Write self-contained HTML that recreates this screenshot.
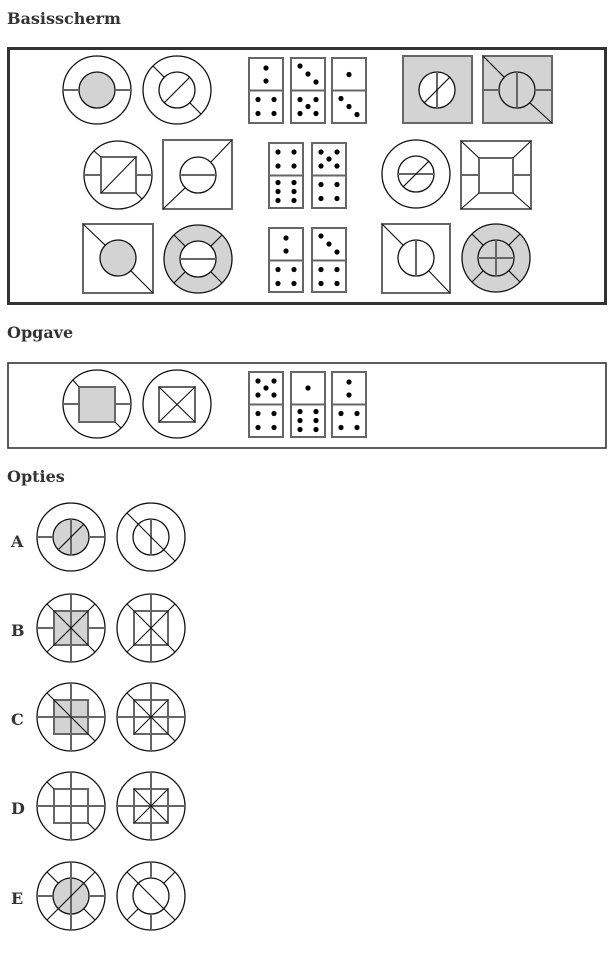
<!DOCTYPE html>
<html><head><meta charset="utf-8"><style>
html,body{margin:0;padding:0;background:#fff;width:613px;height:955px;overflow:hidden}
svg{display:block}
text{font-family:"DejaVu Serif","Liberation Serif",serif;font-weight:bold;fill:#333}
.c{fill:none;stroke:#111;stroke-width:1.3}
.cf{fill:#d3d3d3;stroke:#111;stroke-width:1.3}
.cw{fill:#fff;stroke:#111;stroke-width:1.3}
.g{stroke:#666;stroke-width:2;fill:none}
.gf{stroke:#666;stroke-width:2;fill:#d3d3d3}
.gw{stroke:#666;stroke-width:2;fill:#fff}
.k{stroke:#111;stroke-width:1.1}
.d{fill:#000}
.box{fill:none;stroke:#333;stroke-width:3}
.box2{fill:none;stroke:#333;stroke-width:1.6}
</style></head><body>
<svg width="613" height="955" viewBox="0 0 613 955">
<text x="7" y="24" font-size="16">Basisscherm</text>
<rect class="box" x="8.5" y="48.5" width="597" height="255"/>

<circle class="c" cx="97" cy="90" r="34"/>
<circle class="cf" cx="97" cy="90" r="18"/>
<line class="g" x1="63" y1="90" x2="79" y2="90"/><line class="g" x1="115" y1="90" x2="131" y2="90"/>
<circle class="c" cx="177" cy="90" r="34"/>
<circle class="c" cx="177" cy="90" r="18"/>
<line class="k" x1="164.3" y1="102.7" x2="189.7" y2="77.3"/>
<line class="k" x1="153" y1="66" x2="164.3" y2="77.3"/><line class="k" x1="189.7" y1="102.7" x2="201" y2="114"/>
<g class="g"><rect x="249" y="58" width="34" height="65"/><line x1="249" y1="90.5" x2="283" y2="90.5"/>
<rect x="291" y="58" width="34" height="65"/><line x1="291" y1="90.5" x2="325" y2="90.5"/>
<rect x="332" y="58" width="34" height="65"/><line x1="332" y1="90.5" x2="366" y2="90.5"/></g>
<g class="d">
<circle cx="266" cy="68" r="2.6"/><circle cx="266" cy="81" r="2.6"/>
<circle cx="258" cy="99.5" r="2.6"/><circle cx="274" cy="99.5" r="2.6"/><circle cx="258" cy="113.5" r="2.6"/><circle cx="274" cy="113.5" r="2.6"/>
<circle cx="300" cy="66" r="2.6"/><circle cx="308" cy="74" r="2.6"/><circle cx="316" cy="82" r="2.6"/>
<circle cx="300" cy="99.5" r="2.6"/><circle cx="316" cy="99.5" r="2.6"/><circle cx="308" cy="106.5" r="2.6"/><circle cx="300" cy="113.5" r="2.6"/><circle cx="316" cy="113.5" r="2.6"/>
<circle cx="349" cy="74.5" r="2.6"/>
<circle cx="341" cy="98.5" r="2.6"/><circle cx="349" cy="106.5" r="2.6"/><circle cx="357" cy="114.5" r="2.6"/>
</g>
<rect class="gf" x="403" y="56" width="69" height="67"/>
<circle class="cw" cx="437" cy="90" r="18"/>
<line class="g" x1="437" y1="72" x2="437" y2="108"/>
<line class="k" x1="424.3" y1="102.7" x2="449.7" y2="77.3"/>
<rect class="gf" x="483" y="56" width="69" height="67"/>
<circle class="cf" cx="517" cy="90" r="18"/>
<line class="g" x1="517" y1="72" x2="517" y2="108"/>
<line class="g" x1="483" y1="90" x2="499" y2="90"/><line class="g" x1="535" y1="90" x2="552" y2="90"/>
<line class="k" x1="483" y1="56" x2="504.3" y2="77.3"/><line class="k" x1="529.7" y1="102.7" x2="552" y2="123"/>

<circle class="c" cx="118" cy="175" r="34"/>
<rect class="g" x="101" y="157" width="35" height="36"/>
<line class="k" x1="101" y1="193" x2="136" y2="157"/>
<line class="g" x1="84" y1="175" x2="101" y2="175"/><line class="g" x1="136" y1="175" x2="152" y2="175"/>
<line class="k" x1="94" y1="151" x2="101" y2="157"/><line class="k" x1="136" y1="193" x2="142" y2="199"/>
<rect class="g" x="163" y="140" width="69" height="69"/>
<circle class="c" cx="198" cy="175" r="18"/>
<line class="g" x1="180" y1="175" x2="216" y2="175"/>
<line class="k" x1="163" y1="209" x2="185.3" y2="187.7"/><line class="k" x1="210.7" y1="162.3" x2="232" y2="140"/>
<g class="g"><rect x="269" y="143" width="34" height="65"/><line x1="269" y1="175.5" x2="303" y2="175.5"/>
<rect x="312" y="143" width="34" height="65"/><line x1="312" y1="175.5" x2="346" y2="175.5"/></g>
<g class="d">
<circle cx="278" cy="152" r="2.6"/><circle cx="294" cy="152" r="2.6"/><circle cx="278" cy="166" r="2.6"/><circle cx="294" cy="166" r="2.6"/>
<circle cx="278" cy="182.5" r="2.6"/><circle cx="294" cy="182.5" r="2.6"/><circle cx="278" cy="191.5" r="2.6"/><circle cx="294" cy="191.5" r="2.6"/><circle cx="278" cy="200.5" r="2.6"/><circle cx="294" cy="200.5" r="2.6"/>
<circle cx="321" cy="152" r="2.6"/><circle cx="337" cy="152" r="2.6"/><circle cx="329" cy="159" r="2.6"/><circle cx="321" cy="166" r="2.6"/><circle cx="337" cy="166" r="2.6"/>
<circle cx="321" cy="184.5" r="2.6"/><circle cx="337" cy="184.5" r="2.6"/><circle cx="321" cy="198.5" r="2.6"/><circle cx="337" cy="198.5" r="2.6"/>
</g>
<circle class="c" cx="416" cy="174" r="34"/>
<circle class="c" cx="416" cy="174" r="18"/>
<line class="g" x1="398" y1="174" x2="434" y2="174"/>
<line class="k" x1="403.3" y1="186.7" x2="428.7" y2="161.3"/>
<rect class="g" x="461" y="141" width="70" height="68"/>
<rect class="g" x="479" y="158" width="34" height="35"/>
<line class="k" x1="461" y1="141" x2="479" y2="158"/><line class="k" x1="531" y1="141" x2="513" y2="158"/>
<line class="k" x1="461" y1="209" x2="479" y2="193"/><line class="k" x1="531" y1="209" x2="513" y2="193"/>
<line class="g" x1="461" y1="175" x2="479" y2="175"/><line class="g" x1="513" y1="175" x2="531" y2="175"/>

<rect class="g" x="83" y="224" width="70" height="69"/>
<circle class="cf" cx="118" cy="258" r="18"/>
<line class="k" x1="83" y1="224" x2="105.3" y2="245.3"/><line class="k" x1="130.7" y1="270.7" x2="153" y2="293"/>
<circle class="cf" cx="198" cy="259" r="34"/>
<circle class="cw" cx="198" cy="259" r="18"/>
<line class="g" x1="180" y1="259" x2="216" y2="259"/>
<g class="k"><line x1="174" y1="235" x2="185.3" y2="246.3"/><line x1="222" y1="235" x2="210.7" y2="246.3"/><line x1="174" y1="283" x2="185.3" y2="271.7"/><line x1="222" y1="283" x2="210.7" y2="271.7"/></g>
<g class="g"><rect x="269" y="228" width="34" height="64"/><line x1="269" y1="260.5" x2="303" y2="260.5"/>
<rect x="312" y="228" width="34" height="64"/><line x1="312" y1="260.5" x2="346" y2="260.5"/></g>
<g class="d">
<circle cx="286" cy="238" r="2.6"/><circle cx="286" cy="251" r="2.6"/>
<circle cx="278" cy="269.5" r="2.6"/><circle cx="294" cy="269.5" r="2.6"/><circle cx="278" cy="283.5" r="2.6"/><circle cx="294" cy="283.5" r="2.6"/>
<circle cx="321" cy="236" r="2.6"/><circle cx="329" cy="244" r="2.6"/><circle cx="337" cy="252" r="2.6"/>
<circle cx="321" cy="269.5" r="2.6"/><circle cx="337" cy="269.5" r="2.6"/><circle cx="321" cy="283.5" r="2.6"/><circle cx="337" cy="283.5" r="2.6"/>
</g>
<rect class="g" x="382" y="224" width="68" height="69"/>
<circle class="c" cx="416" cy="258" r="18"/>
<line class="g" x1="416" y1="240" x2="416" y2="276"/>
<line class="k" x1="382" y1="224" x2="403.3" y2="245.3"/><line class="k" x1="428.7" y1="270.7" x2="450" y2="293"/>
<circle class="cf" cx="496" cy="258" r="34"/>
<circle class="cf" cx="496" cy="258" r="18"/>
<line class="g" x1="478" y1="258" x2="514" y2="258"/><line class="g" x1="496" y1="240" x2="496" y2="276"/>
<g class="k"><line x1="472" y1="234" x2="483.3" y2="245.3"/><line x1="520" y1="234" x2="508.7" y2="245.3"/><line x1="472" y1="282" x2="483.3" y2="270.7"/><line x1="520" y1="282" x2="508.7" y2="270.7"/></g>

<text x="7" y="338" font-size="16">Opgave</text>
<rect class="box2" x="8" y="363" width="598" height="85"/>
<circle class="c" cx="97" cy="404" r="34"/>
<rect class="gf" x="79" y="387" width="36" height="35"/>
<line class="g" x1="63" y1="404" x2="79" y2="404"/><line class="g" x1="115" y1="404" x2="131" y2="404"/>
<line class="k" x1="73" y1="380" x2="79" y2="387"/><line class="k" x1="115" y1="422" x2="121" y2="428"/>
<circle class="c" cx="177" cy="404" r="34"/>
<rect class="g" x="159" y="387" width="36" height="35"/>
<line class="k" x1="159" y1="387" x2="195" y2="422"/><line class="k" x1="195" y1="387" x2="159" y2="422"/>
<g class="g"><rect x="249" y="372" width="34" height="65"/><line x1="249" y1="404.5" x2="283" y2="404.5"/>
<rect x="291" y="372" width="34" height="65"/><line x1="291" y1="404.5" x2="325" y2="404.5"/>
<rect x="332" y="372" width="34" height="65"/><line x1="332" y1="404.5" x2="366" y2="404.5"/></g>
<g class="d">
<circle cx="258" cy="381" r="2.6"/><circle cx="274" cy="381" r="2.6"/><circle cx="266" cy="388" r="2.6"/><circle cx="258" cy="395" r="2.6"/><circle cx="274" cy="395" r="2.6"/>
<circle cx="258" cy="413.5" r="2.6"/><circle cx="274" cy="413.5" r="2.6"/><circle cx="258" cy="427.5" r="2.6"/><circle cx="274" cy="427.5" r="2.6"/>
<circle cx="308" cy="388" r="2.6"/>
<circle cx="300" cy="411.5" r="2.6"/><circle cx="316" cy="411.5" r="2.6"/><circle cx="300" cy="420.5" r="2.6"/><circle cx="316" cy="420.5" r="2.6"/><circle cx="300" cy="429.5" r="2.6"/><circle cx="316" cy="429.5" r="2.6"/>
<circle cx="349" cy="382" r="2.6"/><circle cx="349" cy="395" r="2.6"/>
<circle cx="341" cy="413.5" r="2.6"/><circle cx="357" cy="413.5" r="2.6"/><circle cx="341" cy="427.5" r="2.6"/><circle cx="357" cy="427.5" r="2.6"/>
</g>

<text x="7" y="482" font-size="16">Opties</text>
<g font-size="16"><text x="11" y="547">A</text><text x="11" y="636">B</text><text x="11" y="725">C</text><text x="11" y="814">D</text><text x="11" y="904">E</text></g>

<circle class="c" cx="71" cy="537" r="34"/>
<circle class="cf" cx="71" cy="537" r="18"/>
<line class="g" x1="71" y1="519" x2="71" y2="555"/>
<line class="k" x1="58.3" y1="549.7" x2="83.7" y2="524.3"/>
<line class="g" x1="37" y1="537" x2="53" y2="537"/><line class="g" x1="89" y1="537" x2="105" y2="537"/>
<circle class="c" cx="151" cy="537" r="34"/>
<circle class="c" cx="151" cy="537" r="18"/>
<line class="g" x1="151" y1="519" x2="151" y2="555"/>
<line class="k" x1="127" y1="513" x2="175" y2="561"/>

<circle class="c" cx="71" cy="628" r="34"/>
<rect class="gf" x="54" y="611" width="34" height="34"/>
<line class="g" x1="71" y1="594" x2="71" y2="662"/>
<line class="g" x1="37" y1="628" x2="54" y2="628"/><line class="g" x1="88" y1="628" x2="105" y2="628"/>
<line class="k" x1="47" y1="604" x2="95" y2="652"/><line class="k" x1="95" y1="604" x2="47" y2="652"/>
<circle class="c" cx="151" cy="628" r="34"/>
<rect class="g" x="134" y="611" width="34" height="34"/>
<line class="g" x1="151" y1="594" x2="151" y2="662"/>
<line class="k" x1="127" y1="604" x2="175" y2="652"/><line class="k" x1="175" y1="604" x2="127" y2="652"/>

<circle class="c" cx="71" cy="717" r="34"/>
<rect class="gf" x="54" y="700" width="34" height="34"/>
<line class="g" x1="71" y1="683" x2="71" y2="751"/><line class="g" x1="37" y1="717" x2="105" y2="717"/>
<line class="k" x1="47" y1="693" x2="95" y2="741"/>
<circle class="c" cx="151" cy="717" r="34"/>
<rect class="g" x="134" y="700" width="34" height="34"/>
<line class="g" x1="151" y1="683" x2="151" y2="751"/><line class="g" x1="117" y1="717" x2="185" y2="717"/>
<line class="k" x1="127" y1="693" x2="175" y2="741"/><line class="k" x1="134" y1="734" x2="168" y2="700"/>

<circle class="c" cx="71" cy="806" r="34"/>
<rect class="g" x="54" y="789" width="34" height="34"/>
<line class="g" x1="71" y1="772" x2="71" y2="840"/><line class="g" x1="37" y1="806" x2="105" y2="806"/>
<line class="k" x1="47" y1="782" x2="54" y2="789"/><line class="k" x1="88" y1="823" x2="95" y2="830"/>
<circle class="c" cx="151" cy="806" r="34"/>
<rect class="g" x="134" y="789" width="34" height="34"/>
<line class="g" x1="151" y1="772" x2="151" y2="840"/><line class="g" x1="117" y1="806" x2="185" y2="806"/>
<line class="k" x1="134" y1="789" x2="168" y2="823"/><line class="k" x1="168" y1="789" x2="134" y2="823"/>

<circle class="c" cx="71" cy="896" r="34"/>
<circle class="cf" cx="71" cy="896" r="18"/>
<line class="g" x1="71" y1="862" x2="71" y2="930"/>
<line class="g" x1="37" y1="896" x2="53" y2="896"/><line class="g" x1="89" y1="896" x2="105" y2="896"/>
<line class="k" x1="47" y1="920" x2="95" y2="872"/>
<line class="k" x1="47" y1="872" x2="58.3" y2="883.3"/><line class="k" x1="83.7" y1="908.7" x2="95" y2="920"/>
<circle class="c" cx="151" cy="896" r="34"/>
<circle class="c" cx="151" cy="896" r="18"/>
<line class="g" x1="151" y1="862" x2="151" y2="878"/><line class="g" x1="151" y1="914" x2="151" y2="930"/>
<line class="k" x1="127" y1="872" x2="175" y2="920"/>
<line class="k" x1="175" y1="872" x2="163.7" y2="883.3"/><line class="k" x1="127" y1="920" x2="138.3" y2="908.7"/>
</svg>
</body></html>
